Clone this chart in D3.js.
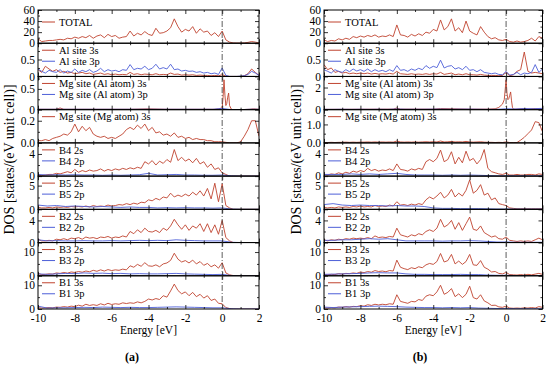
<!DOCTYPE html>
<html>
<head>
<meta charset="utf-8">
<script src="https://cdn.jsdelivr.net/npm/d3@7"></script>
<style>
  body { margin: 0; background: #fff; }
  svg { display: block; }
</style>
</head>
<body>
<div id="chart"></div>
<script>
// energy grids [eV]
var eFine = [-10,-9.8,-9.6,-9.4,-9.2, -9,-8.8,-8.6,-8.4,-8.2, -8,-7.8,-7.6,-7.4,-7.2, -7,-6.8,-6.6,-6.4,-6.2,
             -6,-5.8,-5.6,-5.4,-5.2, -5,-4.8,-4.6,-4.4,-4.2, -4,-3.8,-3.6,-3.4,-3.2, -3,-2.8,-2.6,-2.4,-2.2,
             -2,-1.8,-1.6,-1.4,-1.2, -1,-0.8,-0.6,-0.4,-0.2, 0,0.2,0.4,0.6,0.8, 1,1.2,1.4,1.6,1.8, 2];
var eCoarse = [-10,-9.5,-9,-8.5,-8,-7.5,-7,-6.5,-6,-5.5,-5,-4.5,-4,-3.5,-3,-2.5,-2,-1.5,-1,-0.5,0,0.5,1,1.5,2];
var mgAlE_A = [-10,-9,-8.8,-8.6,-8, -7,-6,-5,-4,-3, -2,-1,-0.4,-0.2,-0.1, 0,0.05,0.1,0.15,0.2, 0.25,0.3,0.35,0.4,0.5, 0.6,1,1.5,1.7,2];
var mgAlE_B = [-10,-8,-6.2,-6,-5.8, -4,-3.6,-2,-1,-0.6, -0.4,-0.2,-0.1,0,0.05, 0.1,0.15,0.2,0.25,0.3, 0.35,0.4,0.6,1,1.2, 1.6,2];

// ---- panel (a) ----
var totalA = [8,3,4,5,5, 6,7,6,9,8, 11,9,12,10,14, 9,13,15,10,16,
              12,14,9,11,12, 22,13,18,15,21, 16,14,27,18,19, 22,28,44,30,20,
              25,22,30,18,26, 20,22,14,19,12, 22,6,2,0.5,0.3, 0.3,0.5,1.5,3,2, 0.5];
var alS_A = [0.2,0.12,0.3,0.22,0.15, 0.2,0.12,0.15,0.1,0.12, 0.08,0.1,0.12,0.08,0.1, 0.06,0.08,0.1,0.06,0.08,
             0.05,0.07,0.05,0.06,0.05, 0.12,0.06,0.08,0.05,0.07, 0.06,0.05,0.08,0.05,0.06, 0.05,0.1,0.06,0.07,0.04,
             0.05,0.04,0.05,0.03,0.04, 0.03,0.03,0.02,0.03,0.02, 0.05,0.01,0,0,0, 0,0.02,0.08,0.22,0.12, 0.03];
var alP_A = [0.22,0.15,0.1,0.18,0.14, 0.12,0.2,0.1,0.16,0.12, 0.22,0.12,0.18,0.14,0.2, 0.12,0.16,0.24,0.14,0.2,
             0.16,0.18,0.14,0.2,0.18, 0.35,0.2,0.24,0.22,0.3, 0.2,0.24,0.36,0.22,0.26, 0.22,0.36,0.2,0.22,0.16,
             0.18,0.15,0.16,0.12,0.14, 0.1,0.12,0.08,0.1,0.06, 0.25,0.03,0,0,0, 0.01,0.02,0.06,0.15,0.1, 0.03];
var mgAlS_A = [0.01,0.01,0.04,0.01,0.01, 0.01,0.01,0.01,0.02,0.01, 0.01,0.01,0.01,0.02,0.03,
               0.05,0.3,0.72,0.35,0.1, 0.15,0.3,0.4,0.1,0.01, 0,0,0.01,0.02,0.01];
var mgAlP_A = [0.01,0.01,0.01,0.01,0.01, 0.01,0.01,0.01,0.01,0.01, 0.01,0.01,0.01,0.01,0.01, 0.01,0.01,0.01,0.01,0.01, 0.03,0,0,0.01,0.01];
var mgMgS_A = [0.02,0.02,0.03,0.02,0.04, 0.05,0.06,0.08,0.07,0.1, 0.17,0.1,0.15,0.11,0.14, 0.08,0.06,0.05,0.06,0.04,
               0.05,0.04,0.06,0.08,0.12, 0.14,0.12,0.16,0.13,0.17, 0.11,0.14,0.09,0.1,0.07, 0.08,0.06,0.09,0.05,0.06,
               0.04,0.05,0.03,0.04,0.03, 0.03,0.02,0.02,0.01,0.01, 0.01,0.005,0,0,0, 0.01,0.06,0.12,0.2,0.2, 0.06];
var b4S_A = [0.2,0.1,0.2,0.3,0.3, 0.5,0.4,0.6,0.8,0.6, 1.2,0.7,1.0,0.8,1.1, 0.9,1.0,1.3,0.9,1.2,
             1.0,1.3,1.1,1.4,1.2, 1.5,1.3,1.6,1.4,2.6, 2.2,2.8,2.0,2.7,2.3, 3.0,2.5,4.8,2.8,3.4,
             2.7,3.1,2.4,3.2,2.2, 2.6,1.6,2.2,1.2,1.5, 0.6,0.3,0,0,0, 0,0,0,0,0, 0];
var b4P_A = [0.3,0.2,0.25,0.2,0.25, 0.2,0.2,0.15,0.2,0.15, 0.2,0.25,0.5,0.2,0.25, 0.3,0.2,0.2,0.15,0.15, 0.2,0.05,0,0,0];
var b5S_A = [0.4,0.3,0.3,0.4,0.3, 0.5,0.4,0.5,0.4,0.6, 0.5,0.6,0.5,0.7,0.5, 0.8,0.6,0.7,0.6,0.9,
             0.7,0.8,1.0,0.9,1.2, 1.0,1.3,1.1,1.5,1.4, 2.0,1.8,2.3,2.0,2.6, 2.4,3.4,2.6,3.0,2.7,
             3.2,2.8,3.6,3.0,3.9, 2.8,4.4,2.2,5.5,1.6, 5.4,0.8,0.3,0,0, 0,0,0,0,0, 0];
var b5P_A = [0.9,0.7,0.8,0.6,0.7, 0.6,0.5,0.6,0.5,0.4, 0.5,0.4,0.4,0.3,0.35, 0.3,0.35,0.3,0.3,0.25, 0.3,0.05,0,0,0];
var b2S_A = [0.6,0.3,0.3,0.4,0.3, 0.6,0.5,0.7,0.5,0.8, 0.7,0.9,0.6,1.0,0.8, 0.9,0.7,1.0,0.9,1.1,
             0.8,1.0,0.9,1.2,1.0, 2.0,1.6,2.3,1.8,2.6, 2.0,1.9,2.2,1.8,2.6, 2.2,3.0,4.2,3.2,2.4,
             3.2,2.2,3.0,2.6,3.4, 2.0,3.4,1.8,3.2,1.5, 4.0,0.9,0.3,0,0, 0,0,0,0,0, 0];
var b2P_A = [0.5,0.3,0.35,0.3,0.3, 0.35,0.3,0.3,0.35,0.3, 0.35,0.4,0.35,0.4,0.35, 0.5,0.4,0.35,0.3,0.3, 0.3,0.05,0,0,0];
var b3S_A = [1.0,0.5,0.6,0.8,0.7, 1.2,1.0,1.4,1.1,1.6, 1.4,1.8,1.5,2.0,1.7, 2.3,1.9,2.5,2.0,2.6,
             2.2,2.5,2.3,2.8,2.5, 4.2,3.6,4.8,4.0,5.5, 4.2,4.0,4.6,3.8,5.0, 5.4,6.5,9.5,7.0,5.8,
             6.4,5.4,6.6,5.0,6.0, 4.4,5.2,3.8,4.6,3.2, 5.5,1.2,0.4,0.1,0, 0,0,0,0,0, 0];
var b3P_A = [0.8,0.6,0.8,1.0,0.9, 1.2,1.0,1.1,0.9,1.0, 0.8,0.9,0.8,0.8,0.9, 1.0,0.8,0.7,0.6,0.5, 0.6,0.1,0,0,0];
var b1S_A = [0.6,0.4,0.5,0.6,0.5, 0.8,0.7,1.0,0.8,1.2, 1.0,1.6,1.2,2.0,1.5, 1.8,1.5,2.2,1.7,2.4,
             1.9,2.2,2.0,2.6,2.3, 2.6,2.4,3.0,2.6,3.2, 4.2,3.8,4.4,4.0,5.6, 5.0,7.6,10.5,7.8,6.4,
             7.2,5.6,7.0,5.2,6.2, 4.6,5.6,3.6,4.2,2.4, 2.2,0.6,0.2,0,0, 0,0,0,0,0, 0];
var b1P_A = [1.2,0.4,0.5,0.5,0.6, 0.7,0.6,0.8,0.7,0.6, 0.7,0.6,0.6,0.7,0.8, 0.9,0.8,0.7,0.6,0.5, 0.5,0.1,0,0,0];

// ---- panel (b) ----
var totalB = [6,3,5,4,8, 6,9,7,12,10, 13,11,14,12,15, 11,13,12,15,12,
              33,15,14,11,16, 13,17,14,20,18, 25,22,42,24,30, 44,22,28,19,40,
              22,18,15,30,20, 12,8,10,6,5, 7,3,2,4,2, 3,5,9,4,12, 9];
var alS_B = [0.35,0.2,0.25,0.12,0.15, 0.1,0.12,0.08,0.1,0.08, 0.1,0.08,0.1,0.07,0.09, 0.07,0.08,0.07,0.09,0.07,
             0.15,0.08,0.07,0.06,0.08, 0.06,0.07,0.06,0.08,0.06, 0.08,0.07,0.12,0.06,0.08, 0.1,0.05,0.07,0.05,0.08,
             0.05,0.05,0.04,0.06,0.04, 0.03,0.03,0.03,0.02,0.03, 0.12,0.02,0.05,0.15,0.2, 0.72,0.15,0.1,0.12,0.1, 0.08];
var alP_B = [0.2,0.15,0.1,0.2,0.15, 0.12,0.2,0.14,0.22,0.16, 0.2,0.15,0.22,0.14,0.2, 0.15,0.18,0.14,0.2,0.15,
             0.32,0.18,0.2,0.15,0.22, 0.18,0.24,0.2,0.32,0.24, 0.3,0.26,0.48,0.25,0.3, 0.32,0.22,0.26,0.2,0.3,
             0.18,0.2,0.14,0.2,0.12, 0.1,0.08,0.1,0.06,0.05, 0.15,0.04,0.06,0.12,0.05, 0.1,0.08,0.12,0.35,0.12, 0.22];
var mgAlS_B = [0.03,0.04,0.05,0.15,0.05, 0.05,0.1,0.05,0.05,0.08, 0.2,0.5,0.9,2.7,1.5,
               0.9,1.0,1.3,1.6,0.8, 0.2,0.05,0.05,0.1,0.05, 0.1,0.05];
var mgAlP_B = [0.03,0.03,0.04,0.03,0.04, 0.03,0.04,0.03,0.06,0.04, 0.04,0.04,0.05,0.05,0.04, 0.05,0.05,0.04,0.03,0.03, 0.08,0.06,0.1,0.08,0.12];
var mgMgS_B = [0.02,0.02,0.03,0.02,0.03, 0.03,0.04,0.03,0.04,0.03, 0.04,0.04,0.05,0.04,0.05, 0.04,0.05,0.04,0.05,0.04,
               0.1,0.05,0.04,0.05,0.04, 0.05,0.04,0.05,0.06,0.05, 0.06,0.05,0.1,0.05,0.06, 0.08,0.05,0.06,0.05,0.08,
               0.05,0.04,0.05,0.06,0.04, 0.03,0.03,0.02,0.03,0.02, 0.05,0.02,0.02,0.02,0.15, 0.3,0.5,0.7,1.15,1.1, 0.6];
var b4S_B = [0.3,0.2,0.4,0.3,0.6, 0.4,0.7,0.5,0.9,0.7, 1.0,0.8,1.4,1.0,1.2, 0.9,1.1,1.0,1.3,1.0,
             2.2,1.2,1.1,0.9,1.3, 1.1,1.4,1.2,2.6,3.0, 2.6,3.2,4.7,2.6,3.0, 4.4,2.2,3.4,2.4,4.5,
             2.8,3.2,2.2,3.0,4.8, 1.4,0.8,0.6,0.4,0.3, 0.5,0.2,0.2,0.3,0.2, 0.2,0.3,0.3,0.2,0.4, 0.3];
var b4P_B = [0.3,0.3,0.3,0.4,0.3, 0.4,0.3,0.4,0.5,0.3, 0.2,0.2,0.2,0.15,0.2, 0.15,0.2,0.15,0.1,0.05, 0.05,0.05,0.05,0.05,0.05];
var b5S_B = [0.4,0.3,0.4,0.3,0.5, 0.4,0.5,0.4,0.6,0.5, 0.7,0.5,0.6,0.5,0.8, 0.6,0.7,0.6,0.9,0.7,
             1.6,0.9,1.0,0.8,1.1, 0.9,1.2,1.0,2.0,2.6, 2.2,2.8,3.6,2.4,3.0, 4.2,2.6,3.4,2.8,4.0,
             6.2,3.4,4.0,5.2,3.0, 3.4,2.0,2.4,1.2,1.0, 0.8,0.3,0.2,0.1,0.1, 0.1,0.1,0.1,0.1,0.1, 0.1];
var b5P_B = [1.0,1.2,0.9,0.8,0.9, 0.8,0.8,0.7,0.8,0.7, 0.7,0.6,0.3,0.2,0.2, 0.15,0.15,0.15,0.1,0.05, 0.05,0.05,0.05,0.05,0.05];
var b2S_B = [0.5,0.3,0.5,0.4,0.6, 0.5,0.7,0.6,0.8,0.7, 0.8,0.7,0.9,0.7,1.2, 0.9,1.0,0.9,1.1,1.0,
             2.6,1.4,1.2,1.0,1.4, 1.2,1.6,1.4,2.0,2.3, 2.0,2.6,4.2,2.8,3.2, 4.0,2.4,3.6,2.2,3.4,
             4.6,2.4,2.2,3.0,1.8, 1.4,1.0,1.2,0.7,0.6, 1.0,0.4,0.3,0.2,0.3, 0.2,0.3,0.2,0.5,0.8, 0.5];
var b2P_B = [0.4,0.4,0.5,0.5,0.6, 0.7,0.6,0.7,0.5,0.3, 0.3,0.3,0.3,0.25,0.3, 0.3,0.35,0.3,0.2,0.1, 0.1,0.05,0.05,0.05,0.05];
var b3S_B = [0.6,0.4,0.6,0.5,0.9, 0.7,1.0,0.9,1.2,1.0, 1.6,1.3,1.8,1.5,2.2, 1.8,2.0,1.7,2.2,2.0,
             6.6,3.6,3.0,2.6,3.4, 3.0,3.8,3.4,4.6,5.2, 4.8,6.0,9.4,5.8,6.4, 9.0,5.0,6.2,4.8,6.0,
             9.0,4.6,4.4,6.4,3.6, 2.8,1.6,1.8,1.0,0.8, 1.4,0.5,0.4,0.3,0.5, 0.3,0.6,0.4,0.7,1.0, 0.6];
var b3P_B = [0.6,0.7,0.8,0.9,1.0, 1.2,1.3,1.2,1.2,0.8, 0.6,0.6,0.5,0.5,0.5, 0.6,0.5,0.5,0.3,0.2, 0.2,0.1,0.1,0.1,0.1];
var b1S_B = [0.5,0.4,0.6,0.5,0.8, 0.7,1.0,0.8,1.1,1.0, 1.4,1.2,1.8,1.5,2.0, 1.7,2.0,1.8,2.2,2.0,
             6.0,3.2,2.8,2.4,3.2, 3.0,4.0,3.6,5.4,6.0, 5.6,7.2,10.0,6.2,7.0, 8.6,5.2,6.4,4.8,6.2,
             9.6,4.8,4.2,6.0,3.4, 2.6,1.5,1.6,0.9,0.7, 1.2,0.4,0.3,0.4,0.3, 0.5,0.4,0.6,0.4,1.0, 0.7];
var b1P_B = [0.8,0.6,0.8,0.9,1.0, 1.1,1.2,1.1,1.0,0.8, 0.7,0.6,0.6,0.5,0.6, 0.5,0.6,0.4,0.3,0.2, 0.2,0.1,0.1,0.1,0.1];

// legend texts, same order for both panels
var legendNames = [["TOTAL"], ["Al site 3s", "Al site 3p"], ["Mg site (Al atom) 3s", "Mg site (Al atom) 3p"],
                   ["Mg site (Mg atom) 3s"], ["B4 2s", "B4 2p"], ["B5 2s", "B5 2p"], ["B2 2s", "B2 2p"],
                   ["B3 2s", "B3 2p"], ["B1 3s", "B1 3p"]];

// axes
var xTicks = [-10, -8, -6, -4, -2, 0, 2];
var xTickText = ["-10", "-8", "-6", "-4", "-2", "0", "2"];
var yMaxA = [60, 0.98, 0.8, 0.3, 6, 7, 6, 14, 14];
var yMaxB = [60, 0.98, 3, 1.8, 6, 7, 6, 14, 14];
var yTicksA = [[0,20,40,60], [0,0.5], [0,0.5], [0,0.2], [0,4], [0,5], [0,4], [0,10], [0,10]];
var yTicksB = [[0,20,40,60], [0,0.5], [0,2], [0,1], [0,4], [0,5], [0,4], [0,10], [0,10]];
var yTextA = [["0","20","40","60"], ["0","0.5"], ["0","0.5"], ["0.0","0.2"], ["0","4"], ["0","5"], ["0","4"], ["0","10"], ["0","10"]];
var yTextB = [["0","20","40","60"], ["0","0.5"], ["0","2"], ["0.0","1.0"], ["0","4"], ["0","5"], ["0","4"], ["0","10"], ["0","10"]];

var seriesA = [
  [[eFine, totalA]],
  [[eFine, alS_A], [eFine, alP_A]],
  [[mgAlE_A, mgAlS_A], [eCoarse, mgAlP_A]],
  [[eFine, mgMgS_A]],
  [[eFine, b4S_A], [eCoarse, b4P_A]],
  [[eFine, b5S_A], [eCoarse, b5P_A]],
  [[eFine, b2S_A], [eCoarse, b2P_A]],
  [[eFine, b3S_A], [eCoarse, b3P_A]],
  [[eFine, b1S_A], [eCoarse, b1P_A]]
];
var seriesB = [
  [[eFine, totalB]],
  [[eFine, alS_B], [eFine, alP_B]],
  [[mgAlE_B, mgAlS_B], [eCoarse, mgAlP_B]],
  [[eFine, mgMgS_B]],
  [[eFine, b4S_B], [eCoarse, b4P_B]],
  [[eFine, b5S_B], [eCoarse, b5P_B]],
  [[eFine, b2S_B], [eCoarse, b2P_B]],
  [[eFine, b3S_B], [eCoarse, b3P_B]],
  [[eFine, b1S_B], [eCoarse, b1P_B]]
];

var red = "#c0432f";
var blue = "#4d5fd8";
var serif = "'Liberation Serif', 'DejaVu Serif', 'Times New Roman', serif";

var svg = d3.select("#chart").append("svg")
  .attr("width", 550)
  .attr("height", 369)
  .attr("font-family", serif);

var plotTop = 10, plotBottom = 309;
var ph = (plotBottom - plotTop) / 9;

var charts = [
  {left: 38, right: 259, series: seriesA, yMax: yMaxA, yTicks: yTicksA, yText: yTextA, caption: "(a)", titleX: 9, capX: 132},
  {left: 324, right: 542.5, series: seriesB, yMax: yMaxB, yTicks: yTicksB, yText: yTextB, caption: "(b)", titleX: 296, capX: 420}
];

function styleAxis(g) {
  g.select(".domain").remove();
  g.attr("font-family", serif).attr("font-size", 11.5);
  g.selectAll("line").attr("stroke", "#000").attr("stroke-width", 0.8);
  g.selectAll("text").attr("fill", "#000");
}

charts.forEach(function(c, ci) {
  var x = d3.scaleLinear().domain([-10, 2]).range([c.left, c.right]);

  c.series.forEach(function(ser, pi) {
    var top = plotTop + pi * ph;
    var y = d3.scaleLinear().domain([0, c.yMax[pi]]).range([top + ph, top]);
    var g = svg.append("g");

    var clipId = "clip" + ci + "_" + pi;
    svg.append("clipPath").attr("id", clipId)
      .append("rect")
      .attr("x", c.left).attr("y", top)
      .attr("width", c.right - c.left).attr("height", ph);

    var line = d3.line().x(function(d){ return x(d[0]); }).y(function(d){ return y(d[1]); });

    ser.forEach(function(s, si) {
      var pts = s[0].map(function(e, k){ return [e, s[1][k]]; });
      g.append("path")
        .attr("d", line(pts))
        .attr("fill", "none")
        .attr("stroke", si ? blue : red)
        .attr("stroke-width", 0.9)
        .attr("clip-path", "url(#" + clipId + ")");
    });

    // y ticks, labels on the left, plain ticks on the right
    var major = c.yTicks[pi];
    var step = major[1] - major[0];
    var minor = d3.range(step / 2, c.yMax[pi], step);
    var labels = c.yText[pi];

    g.append("g").attr("transform", "translate(" + c.left + ",0)")
      .call(d3.axisLeft(y).tickValues(major).tickSize(-4).tickPadding(3)
        .tickFormat(function(d, i){ return labels[i]; }))
      .call(styleAxis);
    g.append("g").attr("transform", "translate(" + c.left + ",0)")
      .call(d3.axisLeft(y).tickValues(minor).tickSize(-2).tickFormat(function(){ return ""; }))
      .call(styleAxis);
    g.append("g").attr("transform", "translate(" + c.right + ",0)")
      .call(d3.axisRight(y).tickValues(major).tickSize(-4).tickFormat(function(){ return ""; }))
      .call(styleAxis);
    g.append("g").attr("transform", "translate(" + c.right + ",0)")
      .call(d3.axisRight(y).tickValues(minor).tickSize(-2).tickFormat(function(){ return ""; }))
      .call(styleAxis);

    // x ticks top and bottom of every strip
    var last = pi === c.series.length - 1;
    g.append("g").attr("transform", "translate(0," + (top + ph) + ")")
      .call(d3.axisBottom(x).tickValues(xTicks).tickSize(-4).tickPadding(5)
        .tickFormat(function(d, i){ return last ? xTickText[i] : ""; }))
      .call(styleAxis);
    g.append("g").attr("transform", "translate(0," + (top + ph) + ")")
      .call(d3.axisBottom(x).tickValues([-9,-7,-5,-3,-1,1]).tickSize(-2).tickFormat(function(){ return ""; }))
      .call(styleAxis);
    g.append("g").attr("transform", "translate(0," + top + ")")
      .call(d3.axisTop(x).tickValues(xTicks).tickSize(-4).tickFormat(function(){ return ""; }))
      .call(styleAxis);
    g.append("g").attr("transform", "translate(0," + top + ")")
      .call(d3.axisTop(x).tickValues([-9,-7,-5,-3,-1,1]).tickSize(-2).tickFormat(function(){ return ""; }))
      .call(styleAxis);

    // frame
    g.append("rect")
      .attr("x", c.left).attr("y", top)
      .attr("width", c.right - c.left).attr("height", ph)
      .attr("fill", "none").attr("stroke", "#000").attr("stroke-width", 1);

    // legend
    legendNames[pi].forEach(function(name, si) {
      var ly = (pi === 0) ? top + 12 : top + 7 + si * 11;
      g.append("line")
        .attr("x1", c.left + 4).attr("x2", c.left + 17)
        .attr("y1", ly).attr("y2", ly)
        .attr("stroke", si ? blue : red).attr("stroke-width", 1);
      g.append("text")
        .attr("x", c.left + 21).attr("y", ly).attr("dy", "0.35em")
        .attr("font-size", 10.5)
        .text(name);
    });
  });

  // Fermi level
  svg.append("line")
    .attr("x1", x(0)).attr("x2", x(0))
    .attr("y1", plotTop).attr("y2", plotBottom)
    .attr("stroke", "#333").attr("stroke-width", 0.8)
    .attr("stroke-dasharray", "6,2,1,2");

  svg.append("text")
    .attr("transform", "translate(" + c.titleX + "," + ((plotTop + plotBottom) / 2) + ") rotate(-90)")
    .attr("text-anchor", "middle").attr("dy", "0.35em")
    .attr("font-size", 14)
    .text("DOS [states/(eV unit cell)]");

  svg.append("text")
    .attr("x", (c.left + c.right) / 2).attr("y", 334)
    .attr("text-anchor", "middle")
    .attr("font-size", 11.5)
    .text("Energy [eV]");

  svg.append("text")
    .attr("x", c.capX).attr("y", 361)
    .attr("text-anchor", "middle")
    .attr("font-size", 12).attr("font-weight", "bold")
    .text(c.caption);
});
</script>
</body>
</html>
